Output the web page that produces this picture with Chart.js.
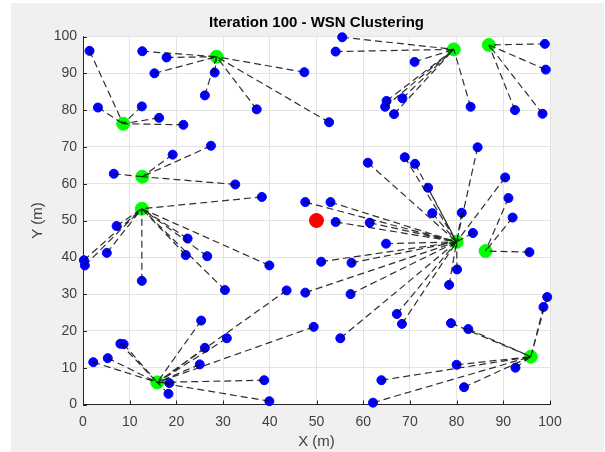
<!DOCTYPE html>
<html>
<head>
<meta charset="utf-8">
<script src="https://cdn.jsdelivr.net/npm/chart.js@4.4.1/dist/chart.umd.min.js"></script>
<style>
  html, body { margin: 0; padding: 0; background: #fff; }
  #wrap { width: 605px; height: 452px; }
</style>
</head>
<body>
<div id="wrap"><canvas id="chart" width="605" height="452"></canvas></div>
<script>
// cluster heads (index = cluster id)
const headX = [8.6, 28.6, 12.7, 12.6, 15.9, 79.4, 86.9, 80.0, 86.2, 95.9]
const headY = [76.3, 94.5, 61.9, 53.2, 6.0, 96.5, 97.7, 44.2, 41.7, 13.0]

// sensor nodes and the cluster each one joined
const nodeX = [
    1.4, 3.2, 12.6, 16.3, 21.5,
    12.7, 17.9, 15.3, 28.2, 26.1, 37.2, 47.4, 52.7,
    6.6, 19.2, 27.4, 32.6,
    38.3, 7.2, 5.1, 0.2, 0.4, 12.6, 22.4, 22.0, 26.6, 39.9, 30.4,
    43.6, 49.4, 25.3, 30.8, 26.1, 25.0, 8.0, 8.7, 5.3, 2.2, 18.5, 18.3, 38.8, 39.9,
    55.5, 54.1, 71.0, 65.0, 64.7, 68.4, 66.6, 83.0,
    98.9, 99.1, 92.5, 98.4,
    47.6, 53.0, 54.1, 61.4, 61.0, 68.9, 71.1, 84.5, 90.4, 73.9, 74.8, 81.1, 83.5, 64.9, 51.0, 57.5, 80.1, 78.4, 47.6, 57.3, 67.2, 68.3, 55.1,
    95.6, 91.1, 92.0,
    99.4, 98.6, 78.8, 82.5, 92.6, 80.0, 63.9, 81.6, 62.1
]
const nodeY = [
    96.1, 80.7, 81.0, 77.9, 76.0,
    96.0, 94.3, 90.0, 90.2, 84.0, 80.2, 90.3, 76.7,
    62.7, 67.9, 70.3, 59.8,
    56.4, 48.5, 41.2, 39.2, 37.8, 33.6, 45.1, 40.6, 40.3, 37.8, 31.1,
    31.0, 21.1, 22.8, 18.0, 15.4, 10.9, 16.5, 16.4, 12.6, 11.5, 5.8, 2.9, 6.6, 0.9,
    99.8, 95.9, 93.1, 82.5, 80.9, 83.2, 78.9, 80.9,
    98.0, 91.0, 80.0, 79.0,
    55.0, 55.0, 49.6, 49.4, 65.7, 67.2, 65.4, 69.9, 61.7, 58.9, 52.0, 52.1, 46.6, 43.7, 38.8, 38.5, 36.7, 32.5, 30.4, 30.0, 24.6, 21.9, 18.0,
    41.4, 56.1, 50.8,
    29.2, 26.5, 22.1, 20.5, 10.0, 10.8, 6.6, 4.7, 0.5
]
const nodeCluster = [
    0, 0, 0, 0, 0,
    1, 1, 1, 1, 1, 1, 1, 1,
    2, 2, 2, 2,
    3, 3, 3, 3, 3, 3, 3, 3, 3, 3, 3,
    4, 4, 4, 4, 4, 4, 4, 4, 4, 4, 4, 4, 4, 4,
    5, 5, 5, 5, 5, 5, 5, 5,
    6, 6, 6, 6,
    7, 7, 7, 7, 7, 7, 7, 7, 7, 7, 7, 7, 7, 7, 7, 7, 7, 7, 7, 7, 7, 7, 7,
    8, 8, 8,
    9, 9, 9, 9, 9, 9, 9, 9, 9
]

// base station
const baseX = [50]
const baseY = [50]

const xTicks = [0, 10, 20, 30, 40, 50, 60, 70, 80, 90, 100]
const yTicks = [0, 10, 20, 30, 40, 50, 60, 70, 80, 90, 100]

const FONT = "'Liberation Sans', Arial, Helvetica, sans-serif"
const TXT = '#404040'

// node -> head links, one broken path (null y breaks the line)
const links = []
nodeX.forEach((x, i) => {
    const c = nodeCluster[i]
    links.push({x: x, y: nodeY[i]})
    links.push({x: headX[c], y: headY[c]})
    links.push({x: headX[c], y: null})
})

const toPoints = (xs, ys) => xs.map((x, i) => ({x: x, y: ys[i]}))

const frame = {
    id: 'frame',
    beforeDraw(chart) {
        const {ctx, chartArea: a} = chart
        ctx.save()
        ctx.fillStyle = '#ffffff'
        ctx.fillRect(0, 0, chart.width, chart.height)
        ctx.fillStyle = '#f0f0f0'
        ctx.fillRect(11, 3, chart.width - 12, chart.height - 3)
        ctx.fillStyle = '#ffffff'
        ctx.fillRect(a.left, a.top, a.right - a.left, a.bottom - a.top)
        ctx.restore()
    },
    beforeDatasetsDraw(chart) {
        // inward tick marks, matlab style
        const {ctx, chartArea: a, scales} = chart
        ctx.save()
        ctx.strokeStyle = '#262626'
        ctx.lineWidth = 1
        ctx.beginPath()
        xTicks.forEach(v => {
            const px = Math.round(scales.x.getPixelForValue(v)) + 0.5
            ctx.moveTo(px, a.bottom)
            ctx.lineTo(px, a.bottom - 4)
        })
        yTicks.forEach(v => {
            const py = Math.round(scales.y.getPixelForValue(v)) + 0.5
            ctx.moveTo(a.left, py)
            ctx.lineTo(a.left + 4, py)
        })
        ctx.stroke()
        ctx.restore()
    }
}

new Chart(document.getElementById('chart'), {
    type: 'scatter',
    data: {
        datasets: [
            {
                label: 'links',
                data: links,
                showLine: true,
                spanGaps: false,
                borderColor: 'rgba(10,10,10,0.85)',
                borderWidth: 1.2,
                borderDash: [7, 4],
                pointRadius: 0,
                order: 0,
                clip: false
            },
            {
                label: 'Base Station',
                data: toPoints(baseX, baseY),
                backgroundColor: '#ff0000',
                borderColor: '#ff0000',
                pointRadius: 7,
                order: 1,
                clip: false
            },
            {
                label: 'Cluster Heads',
                data: toPoints(headX, headY),
                backgroundColor: '#00ff00',
                borderColor: '#00ff00',
                pointRadius: 6.5,
                order: 2,
                clip: false
            },
            {
                label: 'Nodes',
                data: toPoints(nodeX, nodeY),
                backgroundColor: '#0000ff',
                borderColor: '#0000ff',
                pointRadius: 4.5,
                order: 3,
                clip: false
            }
        ]
    },
    options: {
        responsive: false,
        animation: false,
        events: [],
        layout: {padding: {left: 0, right: 55, top: 0, bottom: 0}},
        plugins: {
            legend: {display: false},
            tooltip: {enabled: false},
            title: {
                display: true,
                fullSize: false,
                text: 'Iteration 100 - WSN Clustering',
                color: '#000',
                font: {family: FONT, size: 15, weight: 'bold'},
                padding: {top: 13.5, bottom: 5}
            }
        },
        scales: {
            x: {
                type: 'linear',
                min: 0,
                max: 100,
                afterBuildTicks: s => { s.ticks = xTicks.map(v => ({value: v})) },
                afterFit: s => { s.height = 47.5 },
                ticks: {color: TXT, font: {family: FONT, size: 14}, padding: 9},
                grid: {color: '#e3e3e3', drawTicks: false},
                border: {color: '#262626', width: 1},
                title: {display: true, text: 'X (m)', color: TXT, font: {family: FONT, size: 15}, padding: {top: 0, bottom: 1}}
            },
            y: {
                type: 'linear',
                min: 0,
                max: 100,
                afterBuildTicks: s => { s.ticks = yTicks.map(v => ({value: v})) },
                afterFit: s => { s.width = 83 },
                ticks: {color: TXT, font: {family: FONT, size: 14}, padding: 6},
                grid: {color: '#e3e3e3', drawTicks: false},
                border: {color: '#262626', width: 1},
                title: {display: true, text: 'Y (m)', color: TXT, font: {family: FONT, size: 15}, padding: {top: 29, bottom: 0}}
            }
        }
    },
    plugins: [frame]
})
</script>
</body>
</html>
